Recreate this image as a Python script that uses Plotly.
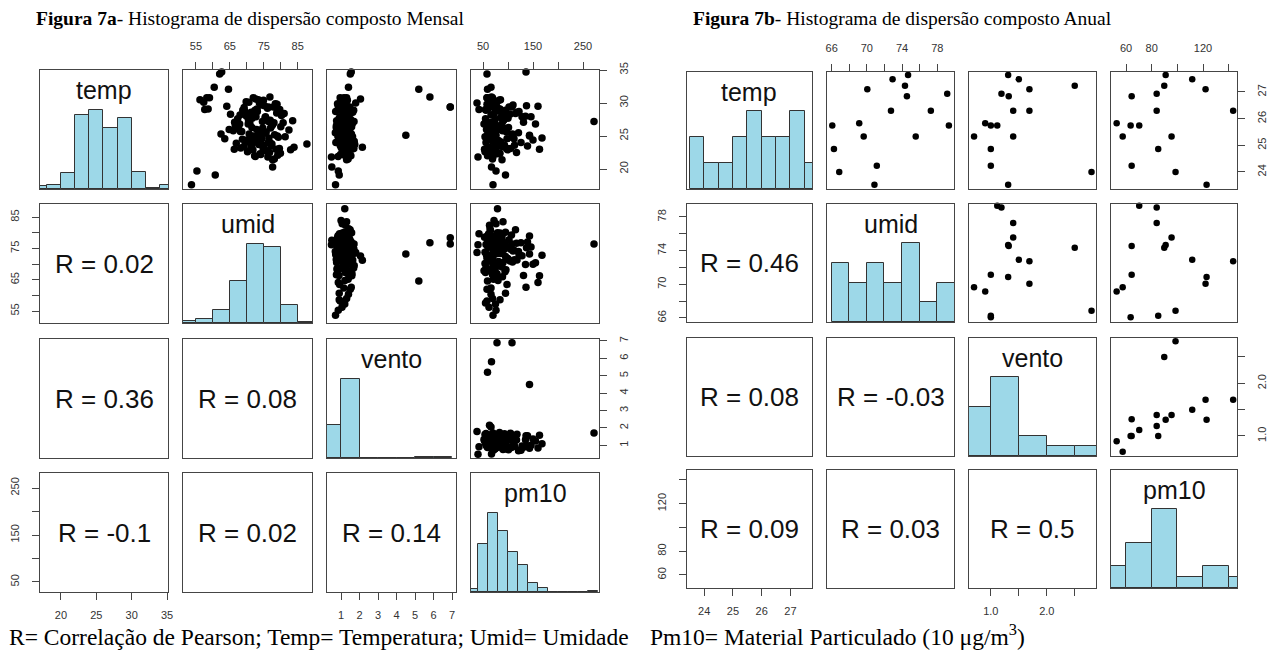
import pandas as pd
import plotly.graph_objects as go

W, H = 1276, 653

# ================= DATA: Figura 7a (Mensal) =================
var_names = ["temp", "umid", "vento", "pm10"]

m_temp = [24.3, 27.8, 22.6, 29.4, 25.7, 23.1, 28.6, 26.2, 21.8, 30.2,
          24.9, 27.1, 23.7, 29.8, 25.3, 22.2, 28.1, 26.8, 24.0, 30.6,
          23.4, 27.5, 25.0, 29.1, 22.9, 26.5, 28.9, 24.6, 21.5, 27.3,
          25.9, 23.9, 29.6, 26.0, 22.4, 28.3, 24.7, 30.0, 23.2, 27.0,
          25.5, 28.8, 22.0, 26.7, 24.4, 29.9, 23.6, 27.6, 25.1, 28.4,
          22.7, 26.3, 30.4, 24.2, 27.9, 23.0, 25.8, 29.2, 26.9, 24.8,
          22.3, 28.2, 25.6, 30.8, 23.5, 27.2, 24.1, 29.0, 26.1, 22.8,
          28.7, 25.2, 23.3, 27.4, 24.5, 29.7, 26.4, 21.9, 28.0, 25.4,
          23.8, 27.7, 24.9, 30.1, 22.5, 26.6, 28.5, 25.0, 23.1, 29.3,
          26.2, 24.3, 27.9, 22.1, 28.9, 25.7, 24.0, 30.5, 23.6, 27.0,
          26.0, 24.6, 28.3, 22.9, 27.3, 25.3, 29.5, 23.0, 26.8, 24.7,
          30.5, 30.1, 30.8, 30.8, 29.0, 29.1, 32.4, 34.4, 34.7, 19.7,
          17.6, 19.1, 23.8, 23.3, 21.4, 20.3, 29.4, 29.4, 30.9, 32.1,
          25.1, 27.2]
m_umid = [72.1, 75.4, 70.2, 77.8, 68.5, 79.6, 71.3, 74.7, 76.2, 69.8,
          81.3, 66.4, 73.5, 78.9, 70.7, 74.1, 80.2, 67.9, 76.8, 72.6,
          69.1, 75.9, 79.0, 73.0, 71.8, 77.3, 68.8, 74.4, 78.1, 70.5,
          82.4, 66.9, 75.2, 72.9, 79.9, 71.0, 76.5, 73.7, 68.2, 80.7,
          74.0, 69.4, 72.3, 77.6, 70.0, 78.4, 75.0, 67.3, 73.3, 81.0,
          76.0, 71.5, 74.9, 69.6, 72.7, 78.6, 66.0, 76.1, 70.9, 79.3,
          73.9, 68.0, 75.7, 71.9, 77.1, 74.6, 70.3, 79.7, 67.6, 75.6,
          73.1, 78.2, 71.2, 76.9, 68.7, 74.2, 80.0, 72.5, 69.9, 75.3,
          77.4, 71.6, 73.8, 70.6, 76.7, 66.6, 78.8, 72.0, 74.8, 69.2,
          77.0, 70.8, 75.5, 79.1, 72.4, 68.1, 76.3, 73.4, 71.4, 78.0,
          64.8, 63.5, 65.2, 82.9, 83.5, 62.4, 64.1, 66.3, 70.4, 72.8,
          56.2, 57.3, 58.2, 59.0, 57.6, 58.6, 60.4, 62.0, 62.6, 55.3,
          53.7, 60.7, 87.7, 83.9, 77.6, 77.6, 78.4, 76.4, 76.8, 64.6,
          73.2, 76.4]
m_vento = [1.12, 0.94, 1.35, 1.48, 0.78, 1.21, 1.63, 1.05, 0.48, 1.29,
           1.41, 0.89, 1.74, 1.02, 1.56, 0.97, 1.18, 1.33, 0.72, 2.05,
           1.09, 1.52, 0.83, 1.27, 1.44, 0.91, 1.68, 1.15, 1.38, 0.76,
           1.24, 1.59, 0.99, 1.46, 1.07, 1.31, 0.86, 1.79, 1.19, 1.40,
           0.69, 1.14, 1.53, 1.01, 1.36, 0.81, 1.66, 1.23, 0.93, 1.49,
           1.11, 0.74, 1.34, 1.71, 0.96, 1.26, 1.43, 1.06, 1.61, 0.88,
           1.20, 1.37, 0.79, 1.16, 1.55, 1.03, 1.28, 0.92, 1.47, 1.13,
           0.71, 1.39, 2.15, 1.08, 0.98, 1.25, 1.57, 0.84, 1.32, 1.17,
           1.45, 0.90, 1.62, 1.10, 1.30, 0.75, 1.42, 1.04, 1.69, 1.22,
           0.87, 1.50, 1.00, 1.19, 1.35, 0.80, 1.60, 1.12, 0.95, 1.44,
           1.21, 0.92, 1.38, 1.06, 1.30, 1.15, 0.85, 1.58, 1.25, 1.09,
           1.05, 1.20, 0.95, 1.30, 1.10, 0.90, 1.40, 1.50, 1.55, 0.85,
           0.70, 0.90, 1.20, 1.00, 1.30, 0.50, 6.90, 6.90, 5.80, 5.20,
           4.50, 1.70]
m_pm10 = [68, 85, 54, 102, 73, 61, 118, 92, 40, 77,
          64, 131, 83, 58, 109, 71, 95, 52, 126, 66,
          88, 74, 143, 60, 99, 81, 56, 112, 69, 90,
          63, 78, 137, 57, 84, 104, 72, 38, 96, 65,
          121, 79, 59, 87, 150, 67, 93, 55, 76, 115,
          62, 101, 82, 70, 128, 53, 89, 74, 61, 107,
          80, 66, 97, 58, 139, 73, 86, 42, 94, 68,
          122, 75, 63, 91, 57, 110, 79, 70, 135, 60,
          83, 100, 54, 77, 117, 69, 88, 64, 105, 72,
          59, 81, 146, 67, 95, 74, 56, 85, 113, 62,
          80, 98, 71, 76, 90, 66, 160, 163, 155, 168,
          62, 75, 58, 69, 55, 84, 66, 58, 136, 76,
          70, 95, 79, 72, 88, 67, 78, 108, 67, 59,
          143, 272]

# monthly histograms (bin edges and counts)
m_temp_edges = [16, 18, 20, 22, 24, 26, 28, 30, 32, 34, 36]
m_temp_counts = [2, 3, 11, 52, 56, 43, 50, 12, 1, 3]
m_umid_edges = [50, 55, 60, 65, 70, 75, 80, 85, 90]
m_umid_counts = [2, 4, 12, 40, 75, 72, 17, 1]
m_vento_edges = [0, 1, 2, 3, 4, 5, 6, 7]
m_vento_counts = [66, 160, 1, 0, 1, 2, 2]
m_pm10_edges = [20, 40, 60, 80, 100, 120, 140, 160, 180, 200, 220, 240, 260, 280]
m_pm10_counts = [2, 33, 55, 42, 28, 19, 6, 3, 0, 0, 0, 0, 1]

m_r_labels = ["R = 0.02", "R = 0.36", "R = 0.08", "R = -0.1", "R = 0.02", "R = 0.14"]

m_temp_ticks = [20, 25, 30, 35]
m_temp_ticktext = ["20", "25", "30", "35"]
m_umid_ticks = [55, 60, 65, 70, 75, 80, 85]
m_umid_ticktext = ["55", " ", "65", " ", "75", " ", "85"]
m_vento_ticks = [1, 2, 3, 4, 5, 6, 7]
m_vento_ticktext = ["1", "2", "3", "4", "5", "6", "7"]
m_pm10_ticks = [50, 100, 150, 200, 250]
m_pm10_ticktext = ["50", " ", "150", " ", "250"]

# ================= DATA: Figura 7b (Anual) =================
a_temp = [27.64, 27.48, 27.23, 27.10, 26.93, 26.84, 26.30, 26.30, 25.83,
          25.74, 25.74, 25.33, 25.33, 24.86, 24.23, 24.00, 23.52]
a_umid = [74.68, 72.92, 74.33, 70.05, 79.13, 74.55, 72.74, 77.27, 69.13,
          66.07, 79.32, 69.64, 75.55, 66.26, 71.13, 66.86, 70.86]
a_vento = [1.31, 1.50, 2.50, 1.69, 1.19, 1.32, 1.69, 1.40, 0.90,
           1.00, 1.115, 0.70, 1.40, 1.00, 1.00, 2.80, 1.31]
a_pm10 = [90.9, 111.6, 89.8, 122.0, 83.9, 64.4, 143.5, 83.9, 52.7,
          63.6, 70.3, 57.4, 95.5, 85.1, 64.4, 98.6, 122.8]

a_temp_edges = [23.5, 24.0, 24.5, 25.0, 25.5, 26.0, 26.5, 27.0, 27.5, 28.0]
a_umid_edges = [66, 68, 70, 72, 74, 76, 78, 80]
a_vento_edges = [0.5, 1.0, 1.5, 2.0, 2.5, 3.0]
a_pm10_edges = [40, 60, 80, 100, 120, 140, 160]

a_r_labels = ["R = 0.46", "R = 0.08", "R = -0.03", "R = 0.09", "R = 0.03", "R = 0.5"]

a_temp_ticks = [24, 25, 26, 27]
a_temp_ticktext = ["24", "25", "26", "27"]
a_umid_ticks = [66, 68, 70, 72, 74, 76, 78]
a_umid_ticktext = ["66", " ", "70", " ", "74", " ", "78"]
a_vento_ticks = [1.0, 1.5, 2.0, 2.5]
a_vento_ticktext = ["1.0", " ", "2.0", " "]
a_pm10_ticks = [60, 80, 100, 120, 140]
a_pm10_ticktext = ["60", "80", " ", "120", " "]

# ================= LAYOUT / STYLE =================
m_cols_px = [(40, 168), (183, 312), (327, 456), (471, 599)]
m_rows_px = [(70, 189), (204, 323), (339, 458), (473, 592)]
a_cols_px = [(687, 812), (827, 954), (969, 1096), (1111, 1237)]
a_rows_px = [(72, 189), (204, 322), (338, 456), (470, 588)]

m_xr = [[17.03, 35.14], [51.2, 89.2], [0.24, 7.21], [26, 282]]
m_yr = [[16.97, 35.0], [51.2, 89.2], [0.27, 7.11], [28.7, 282]]
a_xr = [[23.40, 27.75], [65.47, 79.9], [0.61, 2.88], [48.3, 146.5]]
a_yr = [[23.36, 27.75], [65.52, 79.54], [0.62, 2.86], [49.05, 148.4]]

AX_LINE = "#454545"
HIST_FILL = "#9DD8E8"
SANS = "Liberation Sans, Arial, sans-serif"
SERIF = "Liberation Serif, Times New Roman, serif"
TICKFONT = dict(family=SANS, size=11, color="#333333")


def rc_counts(vals, edges):
    c = pd.cut(pd.Series(vals), bins=edges, right=True, include_lowest=True)
    return list(c.value_counts(sort=False).values)


fig = go.Figure()
layout = {}
annotations = []
counter = [0]


def build(vars_, xr, yr, ticks, cols_px, rows_px, hists, r_labels, msize, lab_y):
    li = 0
    for r in range(4):
        for c in range(4):
            counter[0] += 1
            n = counter[0]
            xn = "x" if n == 1 else f"x{n}"
            yn = "y" if n == 1 else f"y{n}"
            xk = "xaxis" if n == 1 else f"xaxis{n}"
            yk = "yaxis" if n == 1 else f"yaxis{n}"
            base = dict(showgrid=False, zeroline=False, showline=True, mirror=True,
                        linecolor=AX_LINE, linewidth=1, fixedrange=True,
                        automargin=False)
            xa = dict(base, domain=[cols_px[c][0] / W, cols_px[c][1] / W], anchor=yn,
                      range=xr[c])
            ya = dict(base, domain=[1 - rows_px[r][1] / H, 1 - rows_px[r][0] / H], anchor=xn)
            if r == c:
                edges, counts = hists[c]
                ya["range"] = [0, 1.5 * max(counts)]
            else:
                ya["range"] = yr[r]
            show_x = (r == 0 and c % 2 == 1) or (r == 3 and c % 2 == 0)
            show_y = (c == 0 and r % 2 == 1) or (c == 3 and r % 2 == 0)
            if show_x:
                tv, tt = ticks[c]
                xa.update(ticks="outside", ticklen=7, tickcolor=AX_LINE, tickwidth=1,
                          tickvals=tv, ticktext=tt, tickfont=TICKFONT,
                          side="top" if r == 0 else "bottom",
                          ticklabelstandoff=8 if r == 0 else 6)
            else:
                xa.update(ticks="", showticklabels=False)
            if show_y:
                tv, tt = ticks[r]
                ya.update(ticks="outside", ticklen=7, tickcolor=AX_LINE, tickwidth=1,
                          tickvals=tv, ticktext=tt, tickfont=TICKFONT, tickangle=-90,
                          side="left" if c == 0 else "right",
                          ticklabelstandoff=9 if c == 0 else 8)
            else:
                ya.update(ticks="", showticklabels=False)
            layout[xk] = xa
            layout[yk] = ya

            if r == c:
                edges, counts = hists[c]
                centers = [(edges[i] + edges[i + 1]) / 2 for i in range(len(counts))]
                widths = [edges[i + 1] - edges[i] for i in range(len(counts))]
                fig.add_trace(go.Bar(x=centers, y=counts, width=widths,
                                     marker=dict(color=HIST_FILL,
                                                 line=dict(color="#333333", width=1)),
                                     xaxis=xn, yaxis=yn, hoverinfo="skip"))
                annotations.append(dict(text=var_names[c], xref=f"{xn} domain",
                                        yref=f"{yn} domain", x=0.5, y=lab_y,
                                        xanchor="center", yanchor="middle",
                                        showarrow=False,
                                        font=dict(family=SANS, size=25, color="#111111")))
            elif r < c:
                fig.add_trace(go.Scatter(x=vars_[c], y=vars_[r], mode="markers",
                                         marker=dict(color="black", size=msize),
                                         cliponaxis=False, xaxis=xn, yaxis=yn,
                                         hoverinfo="skip"))
            else:
                fig.add_trace(go.Scatter(x=[], y=[], mode="markers",
                                         xaxis=xn, yaxis=yn, hoverinfo="skip"))
                annotations.append(dict(text=r_labels[li], xref=f"{xn} domain",
                                        yref=f"{yn} domain", x=0.5, y=0.5,
                                        xanchor="center", yanchor="middle",
                                        showarrow=False,
                                        font=dict(family=SANS, size=26, color="#111111")))
                li += 1


m_vars = [m_temp, m_umid, m_vento, m_pm10]
m_ticks = [(m_temp_ticks, m_temp_ticktext), (m_umid_ticks, m_umid_ticktext),
           (m_vento_ticks, m_vento_ticktext), (m_pm10_ticks, m_pm10_ticktext)]
m_hists = [(m_temp_edges, m_temp_counts), (m_umid_edges, m_umid_counts),
           (m_vento_edges, m_vento_counts), (m_pm10_edges, m_pm10_counts)]
build(m_vars, m_xr, m_yr, m_ticks, m_cols_px, m_rows_px, m_hists, m_r_labels, 7.5, 0.83)

a_vars = [a_temp, a_umid, a_vento, a_pm10]
a_ticks = [(a_temp_ticks, a_temp_ticktext), (a_umid_ticks, a_umid_ticktext),
           (a_vento_ticks, a_vento_ticktext), (a_pm10_ticks, a_pm10_ticktext)]
a_hists = [(a_temp_edges, rc_counts(a_temp, a_temp_edges)),
           (a_umid_edges, rc_counts(a_umid, a_umid_edges)),
           (a_vento_edges, rc_counts(a_vento, a_vento_edges)),
           (a_pm10_edges, rc_counts(a_pm10, a_pm10_edges))]
build(a_vars, a_xr, a_yr, a_ticks, a_cols_px, a_rows_px, a_hists, a_r_labels, 6.5, 0.83)

# titles and captions
annotations.append(dict(text="<b>Figura 7a</b>- Histograma de dispersão composto Mensal",
                        xref="paper", yref="paper", x=250 / W, y=1 - 18 / H,
                        xanchor="center", yanchor="middle", showarrow=False,
                        font=dict(family=SERIF, size=19.5, color="black")))
annotations.append(dict(text="<b>Figura 7b</b>- Histograma de dispersão composto Anual",
                        xref="paper", yref="paper", x=903 / W, y=1 - 18 / H,
                        xanchor="center", yanchor="middle", showarrow=False,
                        font=dict(family=SERIF, size=19.5, color="black")))
annotations.append(dict(text="R= Correlação de Pearson; Temp= Temperatura; Umid= Umidade",
                        xref="paper", yref="paper", x=7 / W, y=1 - 637 / H,
                        xanchor="left", yanchor="middle", showarrow=False,
                        font=dict(family=SERIF, size=23.5, color="black")))
annotations.append(dict(text="Pm10= Material Particulado (10 μg/m<sup>3</sup>)",
                        xref="paper", yref="paper", x=648 / W, y=1 - 635 / H,
                        xanchor="left", yanchor="middle", showarrow=False,
                        font=dict(family=SERIF, size=23.5, color="black")))

fig.update_layout(width=W, height=H, margin=dict(l=0, r=0, t=0, b=0),
                  paper_bgcolor="white", plot_bgcolor="white", showlegend=False,
                  annotations=annotations, bargap=0, **layout)

fig.write_html("out.html", config={"displayModeBar": False},
               post_script="document.body.style.margin='0px';document.body.style.overflow='hidden';")
